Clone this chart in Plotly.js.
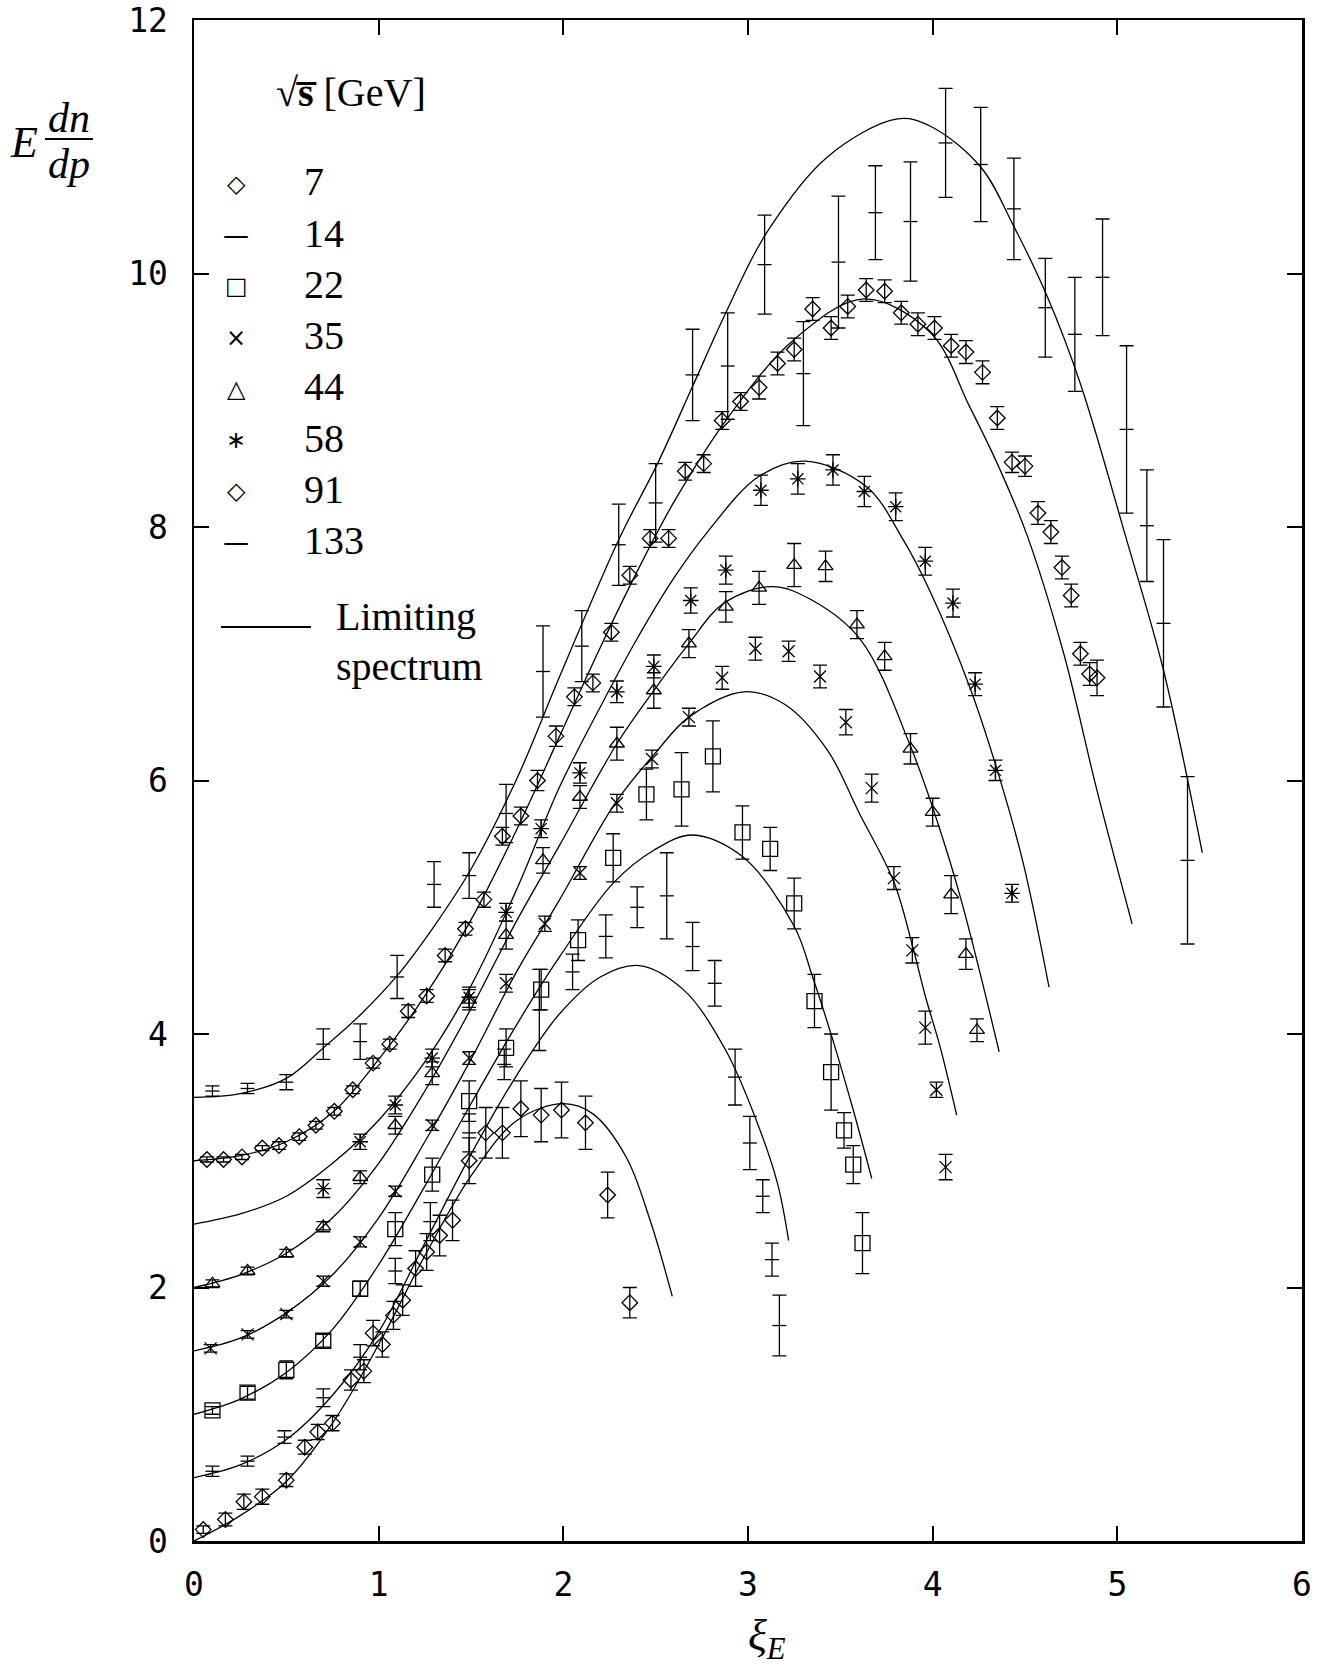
<!DOCTYPE html>
<html><head><meta charset="utf-8">
<script src="https://cdn.plot.ly/plotly-3.0.1.min.js"></script>
<style>html,body{margin:0;padding:0;background:#fff}</style>
</head><body>
<div id="chart" style="width:1326px;height:1677px"></div>
<script>
// ---------------- data: measured points (xi_E, E dn/dp, error) ----------------
const xi7  = [0.05,0.17,0.27,0.37,0.50,0.60,0.67,0.75,0.85,0.92,0.97,1.02,1.08,1.13,1.20,1.26,1.33,1.40,1.49,1.58,1.67,1.77,1.88,1.99,2.12,2.24,2.36];
const y7   = [0.09,0.17,0.31,0.35,0.48,0.74,0.86,0.93,1.27,1.34,1.64,1.55,1.78,1.90,2.15,2.28,2.41,2.53,3.00,3.22,3.22,3.41,3.36,3.40,3.30,2.73,1.88];
const e7   = [0.03,0.05,0.06,0.06,0.05,0.055,0.06,0.06,0.08,0.09,0.10,0.10,0.11,0.12,0.14,0.145,0.16,0.16,0.18,0.20,0.20,0.22,0.21,0.22,0.21,0.18,0.12];

const xi14 = [0.10,0.29,0.49,0.70,0.90,1.09,1.28,1.49,1.68,1.87,2.05,2.23,2.40,2.56,2.70,2.82,2.93,3.01,3.08,3.13,3.17];
const y14  = [0.55,0.63,0.82,1.13,1.45,2.13,2.52,3.22,3.76,4.19,4.49,4.77,5.00,5.09,4.69,4.40,3.66,3.14,2.72,2.22,1.70];
const e14  = [0.04,0.04,0.05,0.07,0.10,0.10,0.15,0.15,0.12,0.32,0.14,0.17,0.16,0.34,0.19,0.18,0.22,0.21,0.13,0.13,0.24];

const xi22 = [0.10,0.29,0.50,0.70,0.90,1.09,1.29,1.49,1.69,1.88,2.08,2.27,2.45,2.64,2.81,2.97,3.12,3.25,3.36,3.45,3.52,3.57,3.62];
const y22  = [1.03,1.17,1.35,1.58,1.99,2.46,2.89,3.47,3.89,4.35,4.74,5.39,5.89,5.93,6.19,5.59,5.46,5.03,4.26,3.70,3.24,2.97,2.35];
const e22  = [0.03,0.05,0.07,0.05,0.06,0.13,0.13,0.16,0.15,0.16,0.16,0.19,0.20,0.29,0.28,0.21,0.17,0.20,0.21,0.30,0.14,0.15,0.24];

const xi35 = [0.09,0.29,0.50,0.70,0.90,1.09,1.29,1.49,1.69,1.90,2.09,2.29,2.48,2.68,2.86,3.04,3.22,3.39,3.53,3.67,3.79,3.89,3.96,4.02,4.07];
const y35  = [1.52,1.63,1.79,2.05,2.36,2.76,3.28,3.81,4.40,4.87,5.27,5.82,6.17,6.50,6.81,7.04,7.02,6.82,6.46,5.94,5.23,4.66,4.05,3.56,2.95];
const e35  = [0.03,0.03,0.03,0.04,0.04,0.04,0.04,0.05,0.07,0.06,0.05,0.07,0.07,0.07,0.09,0.09,0.08,0.09,0.10,0.11,0.09,0.10,0.13,0.06,0.10];

const xi44 = [0.10,0.29,0.50,0.70,0.90,1.09,1.29,1.49,1.69,1.89,2.09,2.29,2.49,2.68,2.88,3.06,3.25,3.42,3.59,3.74,3.88,4.00,4.10,4.18,4.24];
const y44  = [2.03,2.13,2.27,2.48,2.87,3.28,3.69,4.27,4.78,5.37,5.87,6.29,6.71,7.08,7.37,7.52,7.70,7.69,7.23,6.98,6.25,5.75,5.10,4.63,4.03];
const e44  = [0.03,0.03,0.03,0.04,0.05,0.07,0.09,0.08,0.11,0.10,0.09,0.13,0.14,0.11,0.12,0.13,0.17,0.12,0.11,0.11,0.12,0.11,0.15,0.12,0.09];

const xi58 = [0.70,0.90,1.09,1.29,1.49,1.69,1.88,2.09,2.29,2.49,2.69,2.88,3.07,3.27,3.46,3.63,3.80,3.96,4.11,4.23,4.34,4.43];
const y58  = [2.78,3.15,3.44,3.81,4.29,4.96,5.62,6.06,6.70,6.90,7.42,7.66,8.29,8.38,8.45,8.28,8.16,7.73,7.40,6.76,6.08,5.11];
const e58  = [0.07,0.06,0.07,0.07,0.08,0.07,0.07,0.08,0.085,0.09,0.10,0.11,0.12,0.12,0.12,0.12,0.11,0.11,0.11,0.09,0.08,0.07];

const xi91 = [0.07,0.16,0.26,0.37,0.46,0.57,0.66,0.76,0.86,0.97,1.06,1.16,1.26,1.36,1.47,1.57,1.67,1.77,1.86,1.96,
              2.06,2.16,2.26,2.36,2.47,2.57,2.66,2.76,2.86,2.96,3.06,3.16,3.25,3.35,3.45,3.54,3.64,3.74,3.83,3.92,
              4.01,4.10,4.18,4.27,4.35,4.43,4.50,4.57,4.64,4.70,4.75,4.80,4.85,4.89];
const y91  = [3.01,3.01,3.03,3.10,3.12,3.19,3.28,3.39,3.56,3.77,3.92,4.18,4.30,4.62,4.83,5.06,5.56,5.72,6.00,6.35,
              6.66,6.77,7.17,7.62,7.91,7.91,8.44,8.50,8.84,8.99,9.10,9.29,9.40,9.72,9.57,9.74,9.87,9.86,9.69,9.60,
              9.57,9.43,9.38,9.22,8.86,8.51,8.48,8.11,7.96,7.68,7.46,7.00,6.84,6.81];
const e91  = [0.02,0.02,0.02,0.02,0.03,0.03,0.03,0.03,0.03,0.04,0.04,0.05,0.05,0.05,0.05,0.06,0.07,0.07,0.08,0.08,
              0.07,0.07,0.07,0.07,0.07,0.07,0.07,0.07,0.07,0.07,0.09,0.09,0.09,0.09,0.09,0.09,0.09,0.09,0.09,0.09,
              0.09,0.09,0.09,0.09,0.09,0.08,0.08,0.09,0.09,0.09,0.09,0.09,0.09,0.14];

const xi133 = [0.10,0.29,0.50,0.70,0.90,1.10,1.30,1.49,1.69,1.89,2.10,2.30,2.50,2.70,2.89,3.09,3.30,3.49,3.69,3.88,4.07,4.26,4.44,4.61,4.77,4.92,5.05,5.16,5.25,5.38];
const y133  = [3.55,3.57,3.62,3.92,3.94,4.45,5.18,5.25,5.74,6.86,7.06,7.86,8.19,9.20,9.27,10.07,9.21,10.09,10.48,10.41,11.03,10.86,10.51,9.73,9.52,9.97,8.77,8.01,7.24,5.37];
const e133  = [0.04,0.04,0.06,0.12,0.14,0.17,0.18,0.18,0.23,0.36,0.28,0.32,0.31,0.36,0.42,0.39,0.41,0.52,0.37,0.47,0.43,0.45,0.40,0.39,0.45,0.46,0.66,0.44,0.66,0.66];

// ---------------- limiting-spectrum curves ----------------
const cx7 = [0.00,0.25,0.50,0.75,1.00,1.25,1.50,1.75,2.00,2.16,2.34,2.47,2.59];
const cy7 = [0.00,0.20,0.47,0.93,1.55,2.25,2.88,3.32,3.45,3.37,3.03,2.53,1.93];
const cx14 = [0.00,0.25,0.50,0.75,1.00,1.25,1.50,1.75,1.98,2.20,2.41,2.65,2.88,3.05,3.16,3.22];
const cy14 = [0.50,0.60,0.80,1.15,1.65,2.35,3.05,3.68,4.16,4.45,4.54,4.35,3.87,3.30,2.82,2.37];
const cx22 = [0.00,0.25,0.50,0.75,1.00,1.25,1.50,1.75,1.98,2.27,2.49,2.70,2.97,3.25,3.35,3.46,3.57,3.67];
const cy22 = [1.00,1.12,1.33,1.67,2.18,2.80,3.45,4.08,4.61,5.19,5.45,5.57,5.40,4.85,4.45,3.95,3.40,2.86];
const cx35 = [0.00,0.25,0.50,0.75,1.00,1.25,1.50,1.75,1.98,2.28,2.50,2.68,2.98,3.20,3.43,3.60,3.79,3.89,3.96,4.04,4.13];
const cy35 = [1.50,1.60,1.80,2.10,2.55,3.15,3.80,4.50,5.06,5.82,6.22,6.50,6.70,6.60,6.24,5.75,5.20,4.70,4.30,3.90,3.36];
const cx44 = [0.00,0.25,0.50,0.75,1.00,1.25,1.50,1.75,1.98,2.29,2.49,2.68,2.87,3.13,3.35,3.61,3.88,4.04,4.15,4.25,4.36];
const cy44 = [2.00,2.10,2.27,2.55,2.98,3.55,4.20,4.90,5.49,6.29,6.71,7.08,7.40,7.53,7.42,7.11,6.27,5.61,5.08,4.52,3.86];
const cx58 = [0.00,0.25,0.50,0.75,1.00,1.25,1.50,1.75,1.98,2.20,2.40,2.60,2.78,3.06,3.31,3.64,3.84,3.99,4.20,4.35,4.49,4.63];
const cy58 = [2.50,2.58,2.72,2.98,3.32,3.78,4.38,5.15,5.95,6.58,7.12,7.60,7.96,8.40,8.52,8.32,7.90,7.48,6.74,6.08,5.35,4.37];
const cx91 = [0.00,0.25,0.50,0.75,1.00,1.25,1.50,1.75,1.98,2.20,2.40,2.60,2.88,3.25,3.63,3.99,4.20,4.35,4.51,4.71,4.89,5.08];
const cy91 = [3.00,3.04,3.15,3.38,3.80,4.30,4.90,5.62,6.35,7.05,7.65,8.20,8.84,9.48,9.80,9.53,8.95,8.50,7.94,7.00,5.92,4.87];
const cx133 = [0.00,0.25,0.50,0.70,0.90,1.10,1.30,1.50,1.75,1.98,2.30,2.51,2.70,2.88,3.10,3.43,3.81,3.99,4.26,4.44,4.62,4.80,5.05,5.25,5.46];
const cy133 = [3.50,3.53,3.65,3.89,4.15,4.46,4.85,5.30,6.02,6.82,7.90,8.50,9.11,9.69,10.32,10.92,11.22,11.16,10.84,10.37,9.82,9.13,7.90,6.87,5.43];

// legend content
const energies = ['7','14','22','35','44','58','91','133'];
const legendGlyphs = ['\u25C7','\u2014','\u25A1','\u00D7','\u25B3','\u2217','\u25C7','\u2014'];

// ---------------- styling ----------------
const INK = '#000';
const series = [
  {x:xi7,  y:y7,  e:e7,  sym:'diamond-open',     size:12},
  {x:xi14, y:y14, e:e14, sym:'line-ew-open',     size:10},
  {x:xi22, y:y22, e:e22, sym:'square-open',      size:15},
  {x:xi35, y:y35, e:e35, sym:'x-thin-open',      size:12},
  {x:xi44, y:y44, e:e44, sym:'triangle-up-open', size:13},
  {x:xi58, y:y58, e:e58, sym:'asterisk-open',    size:13},
  {x:xi91, y:y91, e:e91, sym:'diamond-open',     size:12},
  {x:xi133,y:y133,e:e133,sym:'line-ew-open',     size:10}
];
const curves = [[cx7,cy7],[cx14,cy14],[cx22,cy22],[cx35,cy35],[cx44,cy44],[cx58,cy58],[cx91,cy91],[cx133,cy133]];

const traces = [];
curves.forEach((c,i)=>{
  traces.push({x:c[0], y:c[1], mode:'lines', type:'scatter', showlegend:false, hoverinfo:'skip',
    name:'Limiting spectrum', line:{color:INK, width:1.3, shape:'spline', smoothing:1}});
});
series.forEach((s,i)=>{
  traces.push({x:s.x, y:s.y, mode:'markers', type:'scatter', name:energies[i], showlegend:false,
    marker:{symbol:s.sym, size:s.size, color:INK, line:{color:INK, width:1.3}},
    error_y:{type:'data', array:s.e, visible:true, color:INK, thickness:1.3, width:7}});
});

// pixel -> paper helpers for the hand-made key
const L=194, R=1302, T=20, B=1541;
const px = v => (v-L)/(R-L);
const py = v => (B-v)/(B-T);

const serif = 'Liberation Serif, Times New Roman, serif';
const annotations = [];
annotations.push({xref:'paper', yref:'paper', x:px(274), y:py(92), xanchor:'left', yanchor:'middle', showarrow:false,
  text:'\u221A<b>s\u0305</b> [GeV]', font:{family:serif, size:40, color:INK}});
energies.forEach((lab,i)=>{
  const yc = 182 + i*51.2;
  annotations.push({xref:'paper', yref:'paper', x:px(302), y:py(yc), xanchor:'left', yanchor:'middle', showarrow:false,
    text:lab, font:{family:serif, size:40, color:INK}});
  annotations.push({xref:'paper', yref:'paper', x:px(236), y:py(yc+2), xanchor:'center', yanchor:'middle', showarrow:false,
    text:legendGlyphs[i], font:{family:'DejaVu Sans', size:(i===1||i===7)?26:24, color:INK}});
});
annotations.push({xref:'paper', yref:'paper', x:px(334), y:py(616), xanchor:'left', yanchor:'middle', showarrow:false,
  text:'Limiting', font:{family:serif, size:40, color:INK}});
annotations.push({xref:'paper', yref:'paper', x:px(334), y:py(666), xanchor:'left', yanchor:'middle', showarrow:false,
  text:'spectrum', font:{family:serif, size:40, color:INK}});
// y-axis label  E dn/dp
annotations.push({xref:'paper', yref:'paper', x:px(24), y:py(142), xanchor:'center', yanchor:'middle', showarrow:false,
  text:'<i>E</i>', font:{family:serif, size:44, color:INK}});
annotations.push({xref:'paper', yref:'paper', x:px(69), y:py(118), xanchor:'center', yanchor:'middle', showarrow:false,
  text:'<i>dn</i>', font:{family:serif, size:42, color:INK}});
annotations.push({xref:'paper', yref:'paper', x:px(69), y:py(164), xanchor:'center', yanchor:'middle', showarrow:false,
  text:'<i>dp</i>', font:{family:serif, size:42, color:INK}});
// x-axis label  xi_E
annotations.push({xref:'paper', yref:'paper', x:px(767), y:py(1638), xanchor:'center', yanchor:'middle', showarrow:false,
  text:'<i>\u03BE</i><sub><i>E</i></sub>', font:{family:serif, size:44, color:INK}});

const shapes = [
  {type:'line', xref:'paper', yref:'paper', x0:px(45), x1:px(93), y0:py(139), y1:py(139), line:{color:INK, width:2}},
  {type:'line', xref:'paper', yref:'paper', x0:px(221), x1:px(311), y0:py(627), y1:py(627), line:{color:INK, width:2}}
];

const tickFont = {family:'DejaVu Sans Mono, monospace', size:33, color:INK};
const axisCommon = {ticks:'inside', ticklen:15, tickwidth:2, tickcolor:INK, showline:true, linewidth:2.5, linecolor:INK,
  mirror:'allticks', showgrid:false, zeroline:false, tickfont:tickFont};

const layout = {
  width:1326, height:1677, paper_bgcolor:'#fff', plot_bgcolor:'#fff',
  margin:{l:L, r:1326-R, t:T, b:1677-B},
  showlegend:false,
  xaxis:Object.assign({range:[0,6], tick0:0, dtick:1, ticklabelstandoff:13}, axisCommon),
  yaxis:Object.assign({range:[0,12], tick0:0, dtick:2, ticklabelstandoff:17}, axisCommon),
  annotations:annotations, shapes:shapes
};

Plotly.newPlot('chart', traces, layout, {staticPlot:true, displayModeBar:false});
</script>
</body></html>
